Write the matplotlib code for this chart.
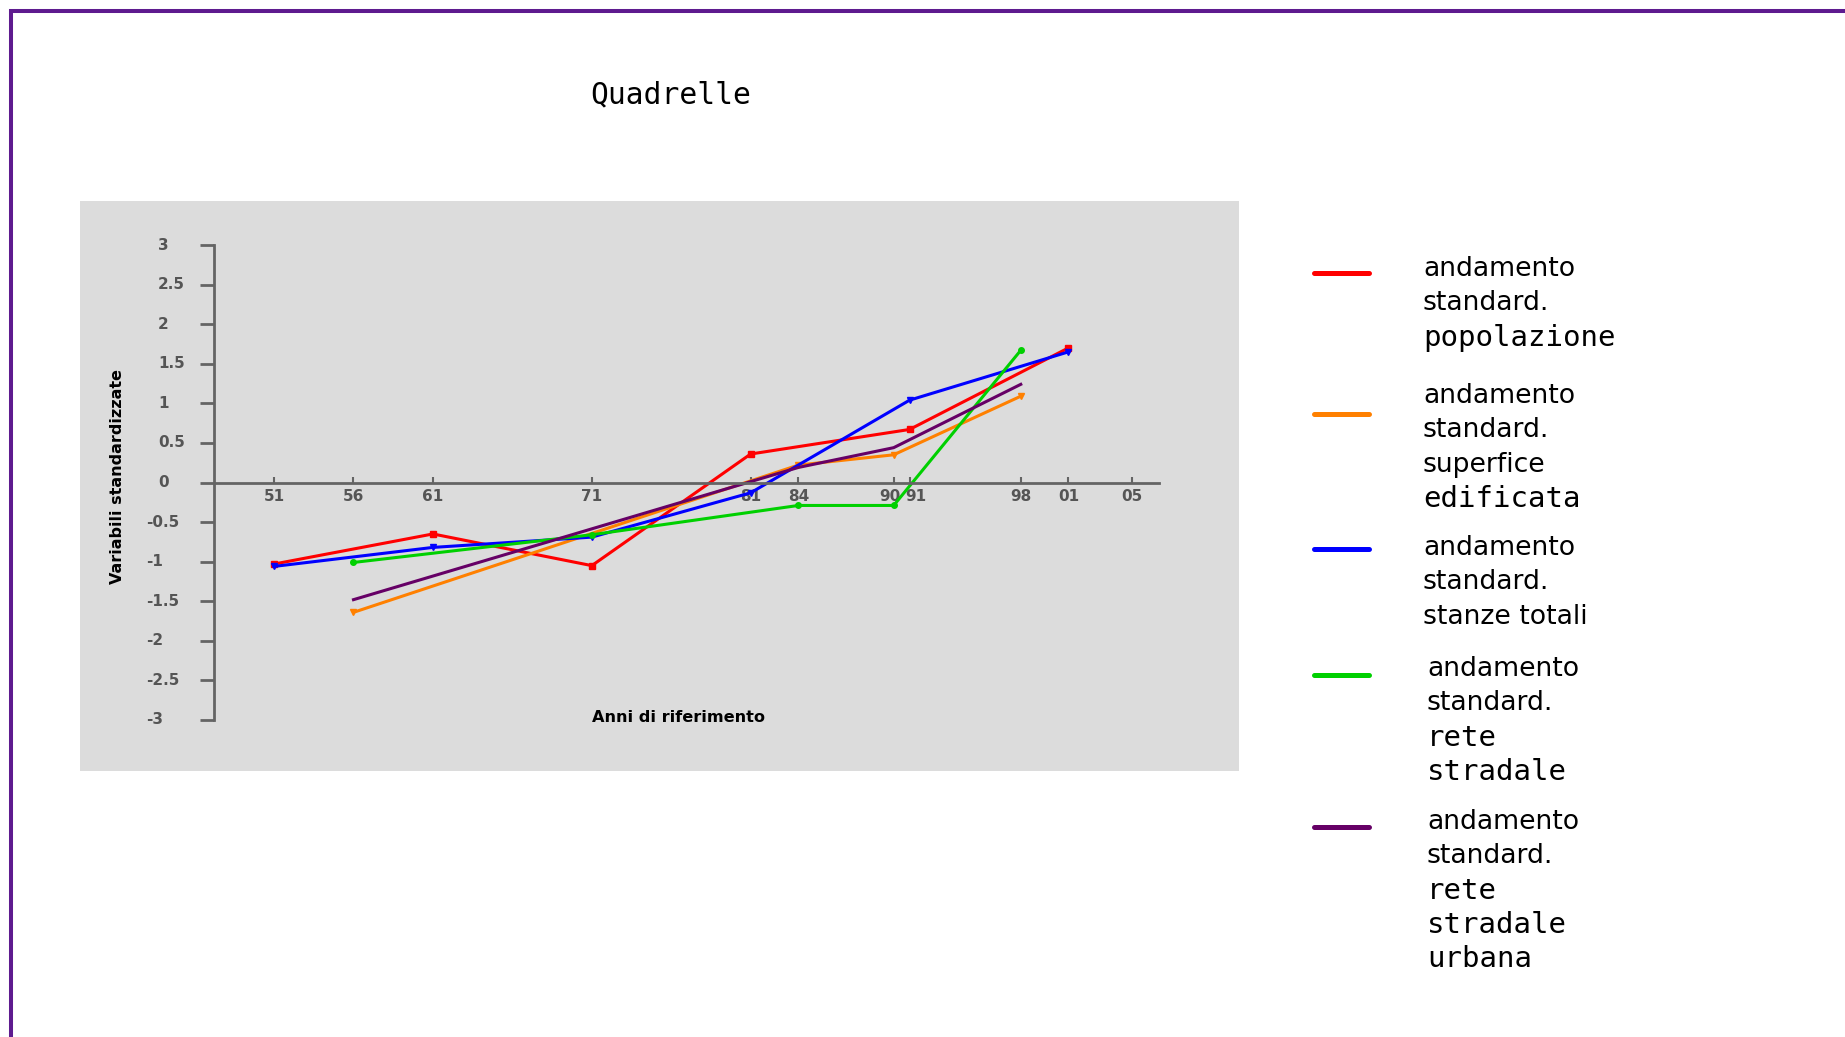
import matplotlib
matplotlib.use('Agg')
import matplotlib.pyplot as plt
from matplotlib.lines import Line2D
from matplotlib.patches import Rectangle
from matplotlib.transforms import ScaledTranslation

# x axis: years (labels shown with 2 digits)
tick_years = [1951, 1956, 1961, 1971, 1981, 1984, 1990, 1991, 1998, 2001, 2005]
tick_labels = ['51', '56', '61', '71', '81', '84', '90', '91', '98', '01', '05']
y_ticks = [3, 2.5, 2, 1.5, 1, 0.5, 0, -0.5, -1, -1.5, -2, -2.5, -3]

# standardized series
years_pop = [1951, 1961, 1971, 1981, 1991, 2001]
popolazione = [-1.03, -0.65, -1.05, 0.36, 0.67, 1.70]
years_sup = [1956, 1984, 1990, 1998]
superficie = [-1.64, 0.22, 0.35, 1.09]
years_stanze = [1951, 1961, 1971, 1981, 1991, 2001]
stanze = [-1.06, -0.82, -0.69, -0.13, 1.04, 1.65]
years_rete = [1956, 1971, 1984, 1990, 1998]
rete = [-1.01, -0.66, -0.29, -0.29, 1.67]
years_urb = [1956, 1984, 1990, 1998]
rete_urbana = [-1.48, 0.19, 0.44, 1.24]

colors = ['#ff0000', '#ff8000', '#0000ff', '#00d000', '#660066']
legend_text = [['andamento', 'standard.', 'popolazione'],
               ['andamento', 'standard.', 'superfice', 'edificata'],
               ['andamento', 'standard.', 'stanze totali'],
               ['andamento', 'standard.', 'rete', 'stradale'],
               ['andamento', 'standard.', 'rete', 'stradale', 'urbana']]
# lines written in the "pixel" font
mono_words = ['popolazione', 'edificata', 'rete', 'stradale', 'urbana']

W, H = 1845, 1037
fig = plt.figure(figsize=(W / 100, H / 100), dpi=100)
fig.patch.set_facecolor('white')

# purple frame (only top/left visible)
fig.add_artist(Rectangle((11 / W, -0.2), 1.5, 1.2 - 11 / H, transform=fig.transFigure,
                         fill=False, edgecolor='#5e1b8f', lw=2.9, zorder=0))
# grey chart area
fig.add_artist(Rectangle((80 / W, 1 - 771 / H), (1239 - 80) / W, (771 - 201) / H,
                         transform=fig.transFigure, facecolor='#dcdcdc', edgecolor='none', zorder=0))

ax = fig.add_axes([214 / W, 1 - 720 / H, (1159 - 214) / W, (720 - 245) / H])
ax.set_facecolor('none')
ax.set_zorder(2)

ax.plot(years_pop, popolazione, color=colors[0], lw=2.2, marker='s', ms=4)
ax.plot(years_sup, superficie, color=colors[1], lw=2.2, marker='v', ms=5)
ax.plot(years_stanze, stanze, color=colors[2], lw=2.2, marker='v', ms=5)
ax.plot(years_rete, rete, color=colors[3], lw=2.2, marker='o', ms=4)
ax.plot(years_urb, rete_urbana, color=colors[4], lw=2.2)

ax.set_xlim(1947.22, 2006.7)
ax.set_ylim(-3, 3)

axis_col = '#646464'
for s in ['top', 'right']:
    ax.spines[s].set_visible(False)
ax.spines['bottom'].set_position(('data', 0))
ax.spines['left'].set_color(axis_col)
ax.spines['bottom'].set_color(axis_col)
ax.spines['left'].set_linewidth(2)
ax.spines['bottom'].set_linewidth(2)

ax.set_xticks(tick_years, tick_labels)
ax.tick_params(axis='x', direction='in', length=4, width=1.5, color=axis_col, pad=5,
               labelsize=11, labelcolor='#555555')
for lab in ax.get_xticklabels():
    lab.set_fontweight('bold')
# 90 and 91 are pushed apart a little, as in the original
xl = ax.get_xticklabels()
xl[6].set_transform(xl[6].get_transform() + ScaledTranslation(-4 / 100, 0, fig.dpi_scale_trans))
xl[7].set_transform(xl[7].get_transform() + ScaledTranslation(6 / 100, 0, fig.dpi_scale_trans))

ax.set_yticks(y_ticks)
ax.tick_params(axis='y', direction='out', length=10, width=2, color=axis_col, labelleft=False)

# y tick labels: digits aligned left, minus sign hanging out
for v in y_ticks:
    txt = ('%g' % v)
    xpos = -0.0593 if v >= 0 else -0.072
    ax.text(xpos, v, txt, transform=ax.get_yaxis_transform(), ha='left', va='center',
            fontsize=11, fontweight='bold', color='#555555')

fig.text(118 / W, 1 - 477 / H, 'Variabili standardizzate', rotation=90, ha='center', va='center',
         fontsize=11.5, fontweight='bold')
fig.text(678 / W, 1 - 717 / H, 'Anni di riferimento', ha='center', va='center',
         fontsize=11.6, fontweight='bold')
fig.text(671 / W, 1 - 95 / H, 'Quadrelle', ha='center', va='center',
         fontsize=21.3, family='DejaVu Sans Mono')

# legend on the right
leg_line_y = [273, 414, 549, 675, 827]
leg_text_y = [269, 396, 548, 669, 822]
leg_text_x = [1423, 1423, 1423, 1427, 1427]
step = 34.3
for i in range(5):
    fig.add_artist(Line2D([1314 / W, 1369 / W], [1 - leg_line_y[i] / H] * 2, transform=fig.transFigure,
                          color=colors[i], lw=3.6, solid_capstyle='round'))
    for j, word in enumerate(legend_text[i]):
        yy = 1 - (leg_text_y[i] + j * step) / H
        if word in mono_words:
            fig.text(leg_text_x[i] / W, yy, word, ha='left', va='center', fontsize=20.9,
                     family='DejaVu Sans Mono')
        else:
            fig.text(leg_text_x[i] / W, yy, word, ha='left', va='center', fontsize=19.2)

fig.savefig('out.png', dpi=100)
